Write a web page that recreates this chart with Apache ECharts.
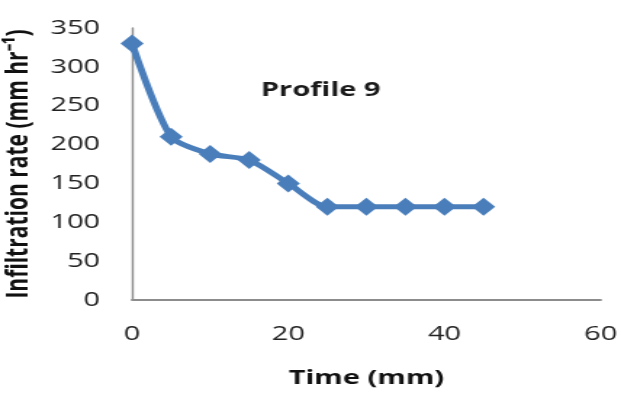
<!DOCTYPE html>
<html><head><meta charset="utf-8">
<script src="https://cdn.jsdelivr.net/npm/echarts@6/dist/echarts.min.js"></script>
<style>html,body{margin:0;padding:0;background:#fff;overflow:hidden}
#c{width:428px;height:398px;transform:scaleX(1.451);transform-origin:0 0}</style>
</head><body><div id="c"></div>
<script>
const times = [0, 5, 10, 15, 20, 25, 30, 35, 40, 45];
const rates = [330, 210, 188, 180, 150, 120, 120, 120, 120, 120];
const xTicks = [0, 20, 40, 60];
const yTicks = [0, 50, 100, 150, 200, 250, 300, 350];
const chart = echarts.init(document.getElementById('c'));
const font = 'Open Sans';
chart.setOption({
  animation: false,
  grid: { left: 91, right: 14, top: 28, bottom: 98, outerBoundsMode: 'none', containLabel: false },
  title: { text: 'Profile 9', left: 216, top: 75, textAlign: 'center',
    textStyle: { fontFamily: font, fontWeight: 'bold', fontSize: 20, color: '#1a1a1a' } },
  xAxis: { type: 'value', min: xTicks[0], max: xTicks[xTicks.length-1], interval: 20,
    name: 'Time (mm)', nameLocation: 'middle', nameGap: 68,
    nameTextStyle: { fontFamily: font, fontWeight: 'bold', fontSize: 20, color: '#111' },
    axisLine: { lineStyle: { color: '#8c8c8c', width: 1.8 } }, axisTick: { show: false },
    splitLine: { show: false },
    axisLabel: { fontFamily: font, fontSize: 20, color: '#222', margin: 24 } },
  yAxis: { type: 'value', min: yTicks[0], max: yTicks[yTicks.length-1], interval: 50,
    name: 'Infiltration rate (mm hr⁻¹)', nameLocation: 'middle', nameGap: 61,
    nameTextStyle: { fontFamily: font, fontWeight: 'bold', fontSize: 21, color: '#111' },
    axisLine: { show: true, lineStyle: { color: '#8c8c8c', width: 1.4 } }, axisTick: { show: false },
    splitLine: { show: false },
    axisLabel: { fontFamily: font, fontSize: 20, color: '#222', margin: 22 } },
  series: [{ type: 'line', data: times.map((t, i) => [t, rates[i]]), smooth: 0.25,
    symbol: 'diamond', symbolSize: [16, 18],
    lineStyle: { color: '#4a7ebb', width: 5 }, itemStyle: { color: '#4a7ebb' } }]
});
</script></body></html>
